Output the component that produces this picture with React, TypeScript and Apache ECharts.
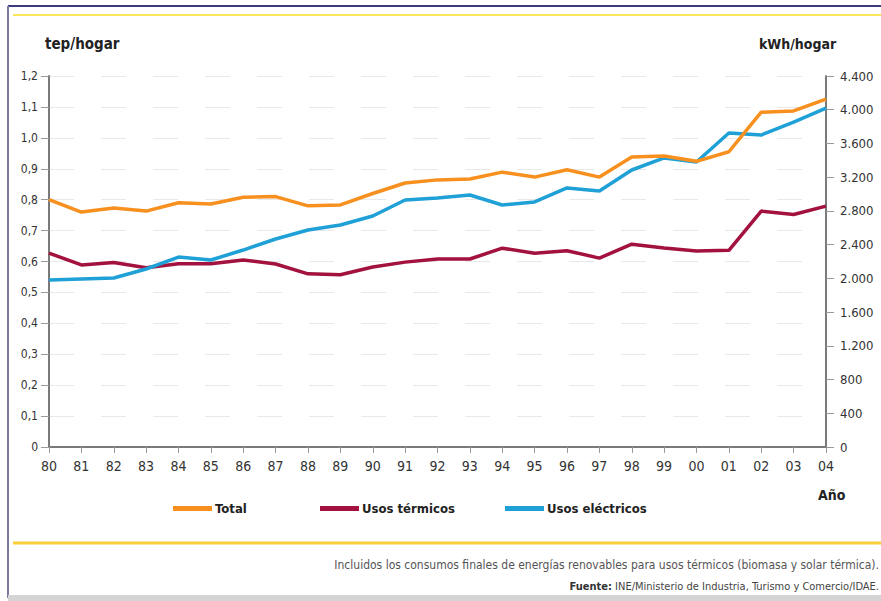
import React, { useEffect, useRef } from "react";
import * as echarts from "echarts";

const years = ["80","81","82","83","84","85","86","87","88","89","90","91","92","93","94","95","96","97","98","99","00","01","02","03","04"];
// tep/hogar (left axis)
const total = [0.80,0.76,0.773,0.763,0.79,0.786,0.808,0.81,0.78,0.783,0.82,0.854,0.864,0.867,0.889,0.873,0.897,0.873,0.938,0.941,0.924,0.955,1.083,1.087,1.125];
const termicos = [0.627,0.589,0.597,0.58,0.593,0.593,0.605,0.592,0.56,0.557,0.582,0.598,0.608,0.608,0.643,0.627,0.635,0.611,0.656,0.644,0.634,0.636,0.763,0.752,0.779];
// kWh/hogar (right axis)
const electricos = [1980,1993,2004,2111,2253,2218,2336,2467,2574,2633,2740,2929,2953,2989,2870,2906,3072,3036,3285,3428,3380,3724,3700,3854,4020];

const seriesNames = ["Total", "Usos térmicos", "Usos eléctricos"];
const colors = ["#f7901e", "#a3123f", "#1fa0d6"];

const FONT = "'Liberation Sans Narrow', 'DejaVu Sans Condensed', 'Noto Sans', sans-serif";

export default function App() {
  const ref = useRef<HTMLDivElement>(null);
  useEffect(() => {
    if (!ref.current) return;
    const chart = echarts.init(ref.current, null, { renderer: "svg" });
    const legendBase = {
      orient: "horizontal",
      top: 497,
      itemWidth: 39,
      itemHeight: 5,
      icon: "rect",
      itemGap: 0,
      textStyle: { fontFamily: FONT, fontSize: 13, fontWeight: "bold", color: "#222", padding: [0, 0, 0, -2] },
    };
    chart.setOption({
      animation: false,
      backgroundColor: "#ffffff",
      grid: { left: 49, right: 55, top: 76, bottom: 154, containLabel: false },
      legend: [
        { ...legendBase, left: 168, data: [seriesNames[0]] },
        { ...legendBase, left: 315, data: [seriesNames[1]] },
        { ...legendBase, left: 500, data: [seriesNames[2]] },
      ],
      xAxis: {
        type: "category",
        data: years,
        boundaryGap: false,
        axisLine: { show: true, lineStyle: { color: "#7a7a7a", width: 2 } },
        axisTick: { show: true, length: 6, lineStyle: { color: "#9a9a9a", width: 1 } },
        axisLabel: { fontFamily: FONT, fontSize: 14, color: "#333", margin: 12 },
        splitLine: { show: false },
      },
      yAxis: [
        {
          type: "value",
          min: 0,
          max: 1.2,
          interval: 0.1,
          position: "left",
          axisLine: { show: true, lineStyle: { color: "#7a7a7a", width: 2 } },
          axisTick: { show: true, length: 8, lineStyle: { color: "#9a9a9a", width: 1 } },
          axisLabel: {
            fontFamily: FONT,
            fontSize: 12,
            color: "#333",
            margin: 11,
            formatter: (v: number) => (v === 0 ? "0" : v.toFixed(1).replace(".", ",")),
          },
          splitLine: { show: true, lineStyle: { color: "#e9e9e9", width: 1, type: [25, 27] } },
        },
        {
          type: "value",
          min: 0,
          max: 4400,
          interval: 400,
          position: "right",
          axisLine: { show: true, lineStyle: { color: "#7a7a7a", width: 2 } },
          axisTick: { show: true, length: 8, lineStyle: { color: "#9a9a9a", width: 1 } },
          axisLabel: {
            fontFamily: FONT,
            fontSize: 13,
            color: "#333",
            margin: 14,
            formatter: (v: number) => {
              if (v === 0) return "0";
              const s = String(Math.round(v));
              return s.length > 3 ? s.slice(0, s.length - 3) + "." + s.slice(s.length - 3) : s;
            },
          },
          splitLine: { show: false },
        },
      ],
      series: [
        {
          name: seriesNames[0],
          type: "line",
          data: total,
          yAxisIndex: 0,
          symbol: "none",
          color: colors[0],
          lineStyle: { color: colors[0], width: 3.5 },
          z: 3,
        },
        {
          name: seriesNames[1],
          type: "line",
          data: termicos,
          yAxisIndex: 0,
          symbol: "none",
          color: colors[1],
          lineStyle: { color: colors[1], width: 3.5 },
          z: 2,
        },
        {
          name: seriesNames[2],
          type: "line",
          data: electricos,
          yAxisIndex: 1,
          symbol: "none",
          color: colors[2],
          lineStyle: { color: colors[2], width: 3.5 },
          z: 2,
        },
      ],
      graphic: [
        // frame
        { type: "line", shape: { x1: 8, y1: 6, x2: 881, y2: 6 }, style: { stroke: "#3b3b7d", lineWidth: 2 } },
        { type: "line", shape: { x1: 8, y1: 6, x2: 8, y2: 598 }, style: { stroke: "#7a7a9a", lineWidth: 2 } },
        { type: "rect", shape: { x: 8, y: 595, width: 873, height: 6 }, style: { fill: "#d4d4d4" } },
        // yellow rules
        { type: "line", shape: { x1: 13, y1: 15, x2: 881, y2: 15 }, style: { stroke: "#f9e55a", lineWidth: 2 } },
        { type: "line", shape: { x1: 13, y1: 543, x2: 881, y2: 543 }, style: { stroke: "#f8cf3a", lineWidth: 3 } },
        // axis titles
        { type: "text", left: 45, top: 36, style: { text: "tep/hogar", fontFamily: FONT, fontSize: 15, fontWeight: "bold", fill: "#222" } },
        { type: "text", left: 759, top: 37, style: { text: "kWh/hogar", fontFamily: FONT, fontSize: 14, fontWeight: "bold", fill: "#222" } },
        { type: "text", left: 818, top: 488, style: { text: "Año", fontFamily: FONT, fontSize: 14, fontWeight: "bold", fill: "#222" } },
        // footer
        {
          type: "text",
          right: 2,
          top: 559,
          style: {
            text: "Incluidos los consumos finales de energías renovables para usos térmicos (biomasa y solar térmica).",
            fontFamily: FONT,
            fontSize: 12,
            fill: "#555",
          },
        },
        {
          type: "text",
          right: 2,
          top: 581,
          style: {
            text: "{b|Fuente:} INE/Ministerio de Industria, Turismo y Comercio/IDAE.",
            fontFamily: FONT,
            fontSize: 11,
            fill: "#444",
            rich: { b: { fontFamily: FONT, fontSize: 11, fontWeight: "bold", fill: "#333" } },
          },
        },
      ],
    });
    return () => chart.dispose();
  }, []);
  return <div ref={ref} style={{ position: "fixed", left: 0, top: 0, width: 881, height: 601 }} />;
}
